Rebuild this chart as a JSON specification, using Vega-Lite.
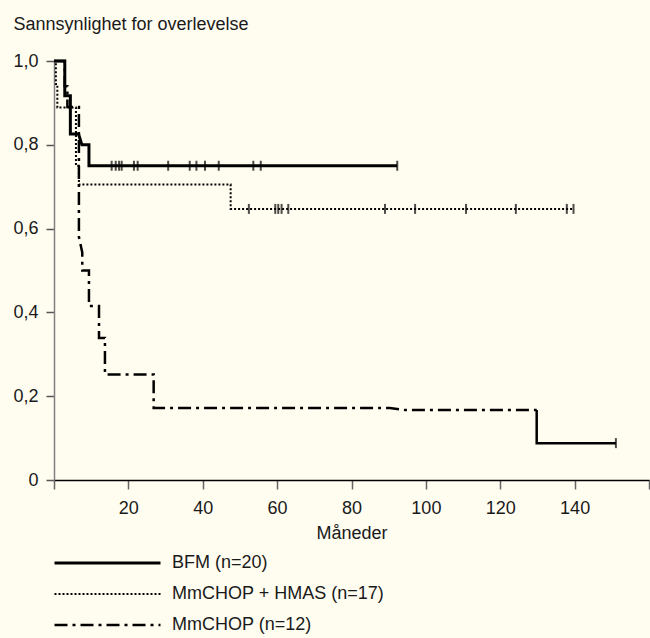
{
  "$schema": "https://vega.github.io/schema/vega-lite/v6.json",
  "autosize": {"type": "none"},
  "padding": {"left": 54, "top": 61, "right": 1, "bottom": 158},
  "width": 595,
  "height": 419,
  "background": "#FFFDF0",
  "config": {
    "view": {"stroke": null},
    "font": "Liberation Sans",
    "axis": {"grid": false, "labelFont": "Liberation Sans", "titleFont": "Liberation Sans", "labelFontSize": 18, "titleFontSize": 18, "labelColor": "#1a1a1a", "titleColor": "#1a1a1a", "titleFontWeight": "normal", "labelFlush": false, "labelOverlap": false}
  },
  "datasets": {
    "curves": [
      {"group": "BFM (n=20)", "i": 1, "months": 0, "survival": 1},
      {"group": "BFM (n=20)", "i": 2, "months": 2.9, "survival": 1},
      {"group": "BFM (n=20)", "i": 3, "months": 2.9, "survival": 0.917},
      {"group": "BFM (n=20)", "i": 4, "months": 4.4, "survival": 0.917},
      {"group": "BFM (n=20)", "i": 5, "months": 4.4, "survival": 0.826},
      {"group": "BFM (n=20)", "i": 6, "months": 6.6, "survival": 0.826},
      {"group": "BFM (n=20)", "i": 7, "months": 7.5, "survival": 0.8},
      {"group": "BFM (n=20)", "i": 8, "months": 9.4, "survival": 0.8},
      {"group": "BFM (n=20)", "i": 9, "months": 9.4, "survival": 0.75},
      {"group": "BFM (n=20)", "i": 10, "months": 92.3, "survival": 0.75},
      {"group": "MmCHOP + HMAS (n=17)", "i": 1, "months": 0, "survival": 1},
      {"group": "MmCHOP + HMAS (n=17)", "i": 2, "months": 0.5, "survival": 1},
      {"group": "MmCHOP + HMAS (n=17)", "i": 3, "months": 0.5, "survival": 0.945},
      {"group": "MmCHOP + HMAS (n=17)", "i": 4, "months": 0.9, "survival": 0.945},
      {"group": "MmCHOP + HMAS (n=17)", "i": 5, "months": 0.9, "survival": 0.889},
      {"group": "MmCHOP + HMAS (n=17)", "i": 6, "months": 5.9, "survival": 0.889},
      {"group": "MmCHOP + HMAS (n=17)", "i": 7, "months": 5.9, "survival": 0.75},
      {"group": "MmCHOP + HMAS (n=17)", "i": 8, "months": 6.7, "survival": 0.75},
      {"group": "MmCHOP + HMAS (n=17)", "i": 9, "months": 6.7, "survival": 0.705},
      {"group": "MmCHOP + HMAS (n=17)", "i": 10, "months": 47.5, "survival": 0.705},
      {"group": "MmCHOP + HMAS (n=17)", "i": 11, "months": 47.5, "survival": 0.647},
      {"group": "MmCHOP + HMAS (n=17)", "i": 12, "months": 139.7, "survival": 0.647},
      {"group": "MmCHOP (n=12)", "i": 1, "months": 0, "survival": 1},
      {"group": "MmCHOP (n=12)", "i": 2, "months": 2.9, "survival": 1},
      {"group": "MmCHOP (n=12)", "i": 3, "months": 2.9, "survival": 0.94},
      {"group": "MmCHOP (n=12)", "i": 4, "months": 3.6, "survival": 0.94},
      {"group": "MmCHOP (n=12)", "i": 5, "months": 3.6, "survival": 0.89},
      {"group": "MmCHOP (n=12)", "i": 6, "months": 6.7, "survival": 0.89},
      {"group": "MmCHOP (n=12)", "i": 7, "months": 6.7, "survival": 0.58},
      {"group": "MmCHOP (n=12)", "i": 8, "months": 7.6, "survival": 0.543},
      {"group": "MmCHOP (n=12)", "i": 9, "months": 7.6, "survival": 0.5},
      {"group": "MmCHOP (n=12)", "i": 10, "months": 9.4, "survival": 0.5},
      {"group": "MmCHOP (n=12)", "i": 11, "months": 9.4, "survival": 0.415},
      {"group": "MmCHOP (n=12)", "i": 12, "months": 12.1, "survival": 0.415},
      {"group": "MmCHOP (n=12)", "i": 13, "months": 12.1, "survival": 0.339},
      {"group": "MmCHOP (n=12)", "i": 14, "months": 13.7, "survival": 0.339},
      {"group": "MmCHOP (n=12)", "i": 15, "months": 13.7, "survival": 0.252},
      {"group": "MmCHOP (n=12)", "i": 16, "months": 26.8, "survival": 0.252},
      {"group": "MmCHOP (n=12)", "i": 17, "months": 26.8, "survival": 0.172},
      {"group": "MmCHOP (n=12)", "i": 18, "months": 90.3, "survival": 0.172},
      {"group": "MmCHOP (n=12)", "i": 19, "months": 94.4, "survival": 0.167},
      {"group": "MmCHOP (n=12)", "i": 20, "months": 129.8, "survival": 0.167}
    ],
    "tail": [
      {"i": 1, "months": 129.8, "survival": 0.167},
      {"i": 2, "months": 129.8, "survival": 0.088},
      {"i": 3, "months": 151.1, "survival": 0.088}
    ],
    "censor": [
      {"group": "BFM (n=20)", "months": 15.5, "survival": 0.75},
      {"group": "BFM (n=20)", "months": 16.6, "survival": 0.75},
      {"group": "BFM (n=20)", "months": 17.5, "survival": 0.75},
      {"group": "BFM (n=20)", "months": 18.2, "survival": 0.75},
      {"group": "BFM (n=20)", "months": 21.5, "survival": 0.75},
      {"group": "BFM (n=20)", "months": 22.5, "survival": 0.75},
      {"group": "BFM (n=20)", "months": 30.7, "survival": 0.75},
      {"group": "BFM (n=20)", "months": 36.5, "survival": 0.75},
      {"group": "BFM (n=20)", "months": 38.3, "survival": 0.75},
      {"group": "BFM (n=20)", "months": 40.6, "survival": 0.75},
      {"group": "BFM (n=20)", "months": 44.3, "survival": 0.75},
      {"group": "BFM (n=20)", "months": 53.6, "survival": 0.75},
      {"group": "BFM (n=20)", "months": 55.6, "survival": 0.75},
      {"group": "BFM (n=20)", "months": 92.3, "survival": 0.75},
      {"group": "MmCHOP + HMAS (n=17)", "months": 52.4, "survival": 0.647},
      {"group": "MmCHOP + HMAS (n=17)", "months": 59.5, "survival": 0.647},
      {"group": "MmCHOP + HMAS (n=17)", "months": 60.3, "survival": 0.647},
      {"group": "MmCHOP + HMAS (n=17)", "months": 61.2, "survival": 0.647},
      {"group": "MmCHOP + HMAS (n=17)", "months": 63.0, "survival": 0.647},
      {"group": "MmCHOP + HMAS (n=17)", "months": 89.0, "survival": 0.647},
      {"group": "MmCHOP + HMAS (n=17)", "months": 97.1, "survival": 0.647},
      {"group": "MmCHOP + HMAS (n=17)", "months": 110.8, "survival": 0.647},
      {"group": "MmCHOP + HMAS (n=17)", "months": 124.2, "survival": 0.647},
      {"group": "MmCHOP + HMAS (n=17)", "months": 137.9, "survival": 0.647},
      {"group": "MmCHOP + HMAS (n=17)", "months": 139.7, "survival": 0.647},
      {"group": "MmCHOP (n=12)", "months": 151.1, "survival": 0.088}
    ]
  },
  "layer": [
    {
      "data": {"name": "curves"},
      "mark": {"type": "line", "color": "black", "strokeCap": "butt", "strokeJoin": "miter"},
      "encoding": {
        "x": {
          "field": "months", "type": "quantitative",
          "scale": {"domain": [0, 160], "nice": false},
          "axis": {
            "values": [0, 20, 40, 60, 80, 100, 120, 140, 160],
            "labelExpr": "datum.value == 0 || datum.value == 160 ? '' : datum.label",
            "tickSize": 9, "labelPadding": 10,
            "domainColor": "#000000", "domainWidth": 1.5,
            "tickColor": "#666666", "tickWidth": 1.5,
            "title": "Måneder", "titleBaseline": "alphabetic", "titleY": 58.3
          }
        },
        "y": {
          "field": "survival", "type": "quantitative",
          "scale": {"domain": [0, 1], "nice": false},
          "axis": {
            "values": [0, 0.2, 0.4, 0.6, 0.8, 1],
            "labelExpr": "datum.value == 0 ? '0' : replace(format(datum.value, '.1f'), '.', ',')",
            "tickSize": 8, "labelPadding": 8,
            "domainColor": "#808080", "domainWidth": 1.5,
            "tickColor": "#555555", "tickWidth": 1.5,
            "title": "Sannsynlighet for overlevelse",
            "titleAngle": 0, "titleAlign": "left", "titleBaseline": "alphabetic",
            "titleX": -41, "titleY": -31.7
          }
        },
        "order": {"field": "i", "type": "quantitative"},
        "strokeDash": {
          "field": "group", "type": "nominal",
          "scale": {"domain": ["BFM (n=20)", "MmCHOP + HMAS (n=17)", "MmCHOP (n=12)"], "range": [[1, 0], [2, 2], [13, 5, 3, 5]]},
          "legend": {"title": null, "orient": "none", "legendX": -1, "legendY": 486.5, "symbolType": "stroke", "symbolSize": 11236, "clipHeight": 31, "rowPadding": 0, "labelOffset": 10, "labelFontSize": 18, "labelFont": "Liberation Sans", "labelColor": "#1a1a1a", "symbolStrokeColor": "black", "padding": 0, "labelLimit": 400}
        },
        "strokeWidth": {
          "field": "group", "type": "nominal",
          "scale": {"type": "ordinal", "domain": ["BFM (n=20)", "MmCHOP + HMAS (n=17)", "MmCHOP (n=12)"], "range": [3, 2, 2.5]},
          "legend": {"title": null, "orient": "none", "legendX": -1, "legendY": 486.5, "symbolType": "stroke", "symbolSize": 11236, "clipHeight": 31, "rowPadding": 0, "labelOffset": 10, "labelFontSize": 18, "labelFont": "Liberation Sans", "labelColor": "#1a1a1a", "symbolStrokeColor": "black", "padding": 0, "labelLimit": 400}
        }
      }
    },
    {
      "data": {"name": "tail"},
      "mark": {"type": "line", "color": "black", "strokeWidth": 2.5, "strokeCap": "butt", "strokeJoin": "miter"},
      "encoding": {
        "x": {"field": "months", "type": "quantitative"},
        "y": {"field": "survival", "type": "quantitative"},
        "order": {"field": "i", "type": "quantitative"}
      }
    },
    {
      "data": {"name": "censor"},
      "mark": {"type": "tick", "orient": "vertical", "color": "black", "size": 10, "thickness": 2},
      "encoding": {
        "x": {"field": "months", "type": "quantitative"},
        "y": {"field": "survival", "type": "quantitative"}
      }
    }
  ]
}
